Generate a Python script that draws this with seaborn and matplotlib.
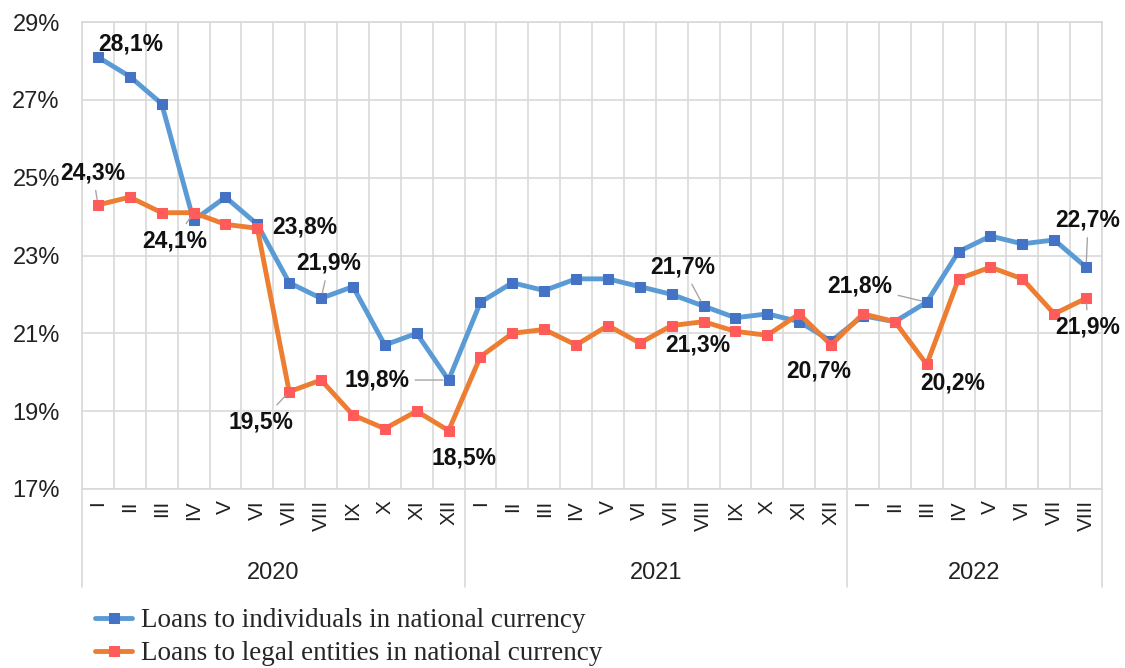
import numpy as np
import pandas as pd
import seaborn as sns
import matplotlib.pyplot as plt

# months of 2020-2022 (to VIII 2022)
months = ["I", "II", "III", "IV", "V", "VI", "VII", "VIII", "IX", "X", "XI", "XII"]
years = ["2020", "2021", "2022"]
month_labels = months * 2 + months[:8]

# interest rates, %
individuals = [28.1, 27.6, 26.9, 23.9, 24.5, 23.8, 22.3, 21.9, 22.2, 20.7, 21.0, 19.8,
               21.8, 22.3, 22.1, 22.4, 22.4, 22.2, 22.0, 21.7, 21.4, 21.5, 21.3, 20.8,
               21.45, 21.3, 21.8, 23.1, 23.5, 23.3, 23.4, 22.7]
legal = [24.3, 24.5, 24.1, 24.1, 23.8, 23.7, 19.5, 19.8, 18.9, 18.55, 19.0, 18.5,
         20.4, 21.0, 21.1, 20.7, 21.2, 20.75, 21.2, 21.3, 21.05, 20.95, 21.5, 20.7,
         21.5, 21.3, 20.2, 22.4, 22.7, 22.4, 21.5, 21.9]

name_ind = "Loans to individuals in national currency"
name_leg = "Loans to legal entities in national currency"

idx = np.arange(len(month_labels))
df = pd.DataFrame({"i": idx, "ind": individuals, "leg": legal})

sns.set_style("white")
plt.rcParams["font.family"] = ["Liberation Sans", "DejaVu Sans"]

fig = plt.figure(figsize=(11.25, 6.68), dpi=100)
ax = fig.add_axes([0.0729, 0.268, 0.9067, 0.699])

sns.lineplot(data=df, x="i", y="ind", ax=ax, color="#5B9BD5", lw=3.5, marker="s",
             markersize=6.5, markerfacecolor="#4472C4", markeredgecolor="#4472C4",
             label=name_ind, legend=False, zorder=3)
sns.lineplot(data=df, x="i", y="leg", ax=ax, color="#ED7D31", lw=3.5, marker="s",
             markersize=6.5, markerfacecolor="#FF5B5B", markeredgecolor="#FF5B5B",
             label=name_leg, legend=False, zorder=4)

# axes
ax.set_xlim(-0.5, len(idx) - 0.5)
ax.set_ylim(17, 29)
ax.set_yticks(range(17, 30, 2))
ax.set_yticklabels([f"{v}%" for v in range(17, 30, 2)], fontsize=17, color="#222222")
ax.set_xticks(idx)
ax.set_xticklabels(month_labels, rotation=90, fontsize=15, color="#222222")
ax.set_xticks(np.arange(-0.5, len(idx), 1), minor=True)
ax.tick_params(axis="both", which="both", length=0)
ax.tick_params(axis="y", pad=16)
ax.tick_params(axis="x", pad=8)
ax.grid(axis="y", which="major", color="#D9D9D9", lw=1.2)
ax.grid(axis="x", which="minor", color="#D9D9D9", lw=1.2)
ax.set_xlabel("")
ax.set_ylabel("")
for s in ax.spines.values():
    s.set_color("#D9D9D9")
    s.set_linewidth(1.2)

# year groups below the axis
tr = ax.get_xaxis_transform()
for b in [-0.5, 11.5, 23.5, len(idx) - 0.5]:
    ax.plot([b, b], [0, -0.21], transform=tr, color="#D9D9D9", lw=1.2, clip_on=False)
starts = [0, 12, 24]
ends = [11, 23, len(idx) - 1]
for y, s0, s1 in zip(years, starts, ends):
    ax.text((s0 + s1) / 2, -0.18, y, transform=tr, ha="center", va="center",
            fontsize=17, color="#222222")

# data labels: (series, index, dx, dy, leader)
labels = [
    (individuals, 0, 33, 13, False),
    (legal, 0, -5, 32, True),
    (legal, 3, -19, -28, True),
    (individuals, 5, 47, -3, False),
    (individuals, 7, 8, 35, True),
    (legal, 6, -28, -30, True),
    (individuals, 11, -72, 0, True),
    (legal, 11, 15, -27, False),
    (individuals, 19, -21, 39, True),
    (legal, 19, -6, -23, False),
    (legal, 23, -12, -26, False),
    (individuals, 26, -67, 16, True),
    (legal, 26, 26, -19, False),
    (individuals, 31, 2, 47, True),
    (legal, 31, 2, -29, True),
]
for ser, i, dx, dy, lead in labels:
    txt = f"{ser[i]:.1f}%".replace(".", ",")
    arrow = dict(arrowstyle="-", color="#A6A6A6", lw=1, shrinkA=2, shrinkB=4) if lead else None
    ax.annotate(txt, xy=(i, ser[i]), xytext=(dx, dy), textcoords="offset pixels",
                ha="center", va="center", fontsize=16.5, fontweight="bold",
                color="#111111", arrowprops=arrow, zorder=6)

handles, names = ax.get_legend_handles_labels()
fig.legend(handles, names, loc="upper left", bbox_to_anchor=(0.072, 0.11),
           frameon=False, prop={"family": "Liberation Serif", "size": 19.5},
           handlelength=1.4, handletextpad=0.3, labelspacing=0.3, borderpad=0)

fig.savefig("out.png", dpi=100)
